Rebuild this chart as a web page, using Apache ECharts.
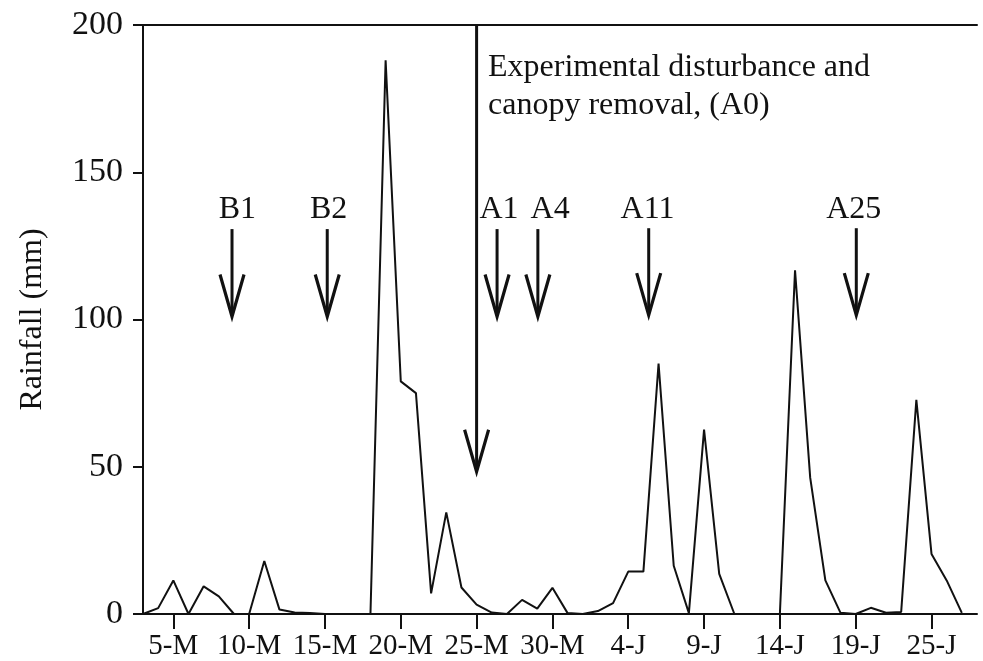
<!DOCTYPE html>
<html>
<head>
<meta charset="utf-8">
<script src="https://cdn.jsdelivr.net/npm/echarts@6/dist/echarts.min.js"></script>
<style>
html,body{margin:0;padding:0;background:#fff;}
#chart{width:983px;height:661px;}
</style>
</head>
<body>
<div id="chart"></div>
<script>
// Daily categories (3 May – 27 June)
const categories = [
  '3-M','4-M','5-M','6-M','7-M','8-M','9-M','10-M','11-M','12-M','13-M','14-M','15-M','16-M','17-M',
  '18-M','19-M','20-M','21-M','22-M','23-M','24-M','25-M','26-M','27-M','28-M','29-M','30-M','31-M',
  '1-J','2-J','3-J','4-J','5-J','6-J','7-J','8-J','9-J','10-J','11-J','12-J','13-J','14-J','15-J',
  '16-J','17-J','18-J','19-J','20-J','21-J','22-J','23-J','24-J','25-J','26-J','27-J'
];
// Daily rainfall (mm)
const rainfall = [
  0, 2, 11.4, 0, 9.4, 6, 0, 0, 18, 1.5, 0.5, 0.3, 0, 0, 0,
  0, 188, 79, 75, 7, 34.5, 9, 3.2, 0.5, 0, 4.8, 1.8, 8.9, 0.3,
  0, 1, 3.7, 14.4, 14.4, 85, 16.4, 0.3, 62.6, 13.6, 0, 0, 0, 0, 116.7,
  46.3, 11.4, 0.4, 0, 2.1, 0.4, 0.7, 72.7, 20.4, 11.4, 0.4, null
];
// Axis ticks
const tickIndex = [2, 7, 12, 17, 22, 27, 32, 37, 42, 47, 52];
const tickLabels = ['5-M','10-M','15-M','20-M','25-M','30-M','4-J','9-J','14-J','19-J','25-J'];
const yMin = 0, yMax = 200, yStep = 50;
const yName = 'Rainfall (mm)';

// Sampling arrows: [day index, top value, tip value]
const arrows = [
  [5.87, 130.7, 101], [12.15, 130.7, 101], [23.35, 130.7, 101], [26.04, 130.7, 101],
  [33.35, 131, 101.5], [47.04, 131, 101.5], [22.0, 200, 48.3]
];
// Arrow labels: [day index, value]
const arrowLabelText = ['B1', 'B2', 'A1', 'A4', 'A11', 'A25'];
const arrowLabelPos = [[6.22, 137.2], [12.24, 137.2], [23.48, 137.2], [26.85, 137.2], [33.27, 137.2], [46.87, 137.2]];
// Annotation
const noteText = ['Experimental disturbance and', 'canopy removal, (A0)'];
const notePos = [[22.75, 185.6], [22.75, 172.5]];

const FONT = "'Liberation Serif', 'Times New Roman', serif";
const INK = '#111';

const chart = echarts.init(document.getElementById('chart'), null, {renderer: 'canvas'});
chart.setOption({
  animation: false,
  backgroundColor: '#fff',
  grid: {left: 143, right: 6, top: 25, bottom: 44, containLabel: false},
  xAxis: [
    {
      type: 'category', data: categories, boundaryGap: false,
      axisLine: {show: true, lineStyle: {color: INK, width: 2}},
      axisTick: {show: true, length: 15, inside: false, lineStyle: {color: INK, width: 2},
        interval: (i) => tickIndex.includes(i)},
      axisLabel: {show: true, interval: (i) => tickIndex.includes(i), margin: 18,
        fontFamily: FONT, fontSize: 29, color: INK,
        formatter: (v, i) => { const k = tickIndex.indexOf(i); return k >= 0 ? tickLabels[k] : ''; }},
      splitLine: {show: false}
    },
    {
      type: 'value', min: 0, max: categories.length - 1, position: 'top',
      axisLine: {show: true, onZero: false, lineStyle: {color: INK, width: 2}},
      axisTick: {show: false}, axisLabel: {show: false}, splitLine: {show: false}
    }
  ],
  yAxis: {
    type: 'value', min: yMin, max: yMax, interval: yStep,
    name: yName, nameLocation: 'middle', nameGap: 94, nameRotate: 90,
    nameTextStyle: {fontFamily: FONT, fontSize: 32, color: INK},
    axisLine: {show: true, lineStyle: {color: INK, width: 2}},
    axisTick: {show: true, length: 10, lineStyle: {color: INK, width: 2}},
    axisLabel: {margin: 20, fontFamily: FONT, fontSize: 34, color: INK},
    splitLine: {show: false}
  },
  series: [
    {
      type: 'line', data: rainfall, xAxisIndex: 0, showSymbol: false, symbol: 'none',
      lineStyle: {color: INK, width: 2}, connectNulls: false
    },
    {
      type: 'custom', xAxisIndex: 1, data: arrows, clip: false,
      renderItem: (params, api) => {
        const top = api.coord([api.value(0), api.value(1)]);
        const tip = api.coord([api.value(0), api.value(2)]);
        return {type: 'group', children: [
          {type: 'line', shape: {x1: top[0], y1: top[1], x2: tip[0], y2: tip[1] - 2},
           style: {stroke: INK, lineWidth: 3}},
          {type: 'polyline', shape: {points: [[tip[0] - 12, tip[1] - 42], [tip[0], tip[1]], [tip[0] + 12, tip[1] - 42]]},
           style: {stroke: INK, lineWidth: 3.2, fill: null, lineJoin: 'miter', miterLimit: 20}}
        ]};
      }
    },
    {
      type: 'custom', xAxisIndex: 1, data: arrowLabelPos, clip: false,
      renderItem: (params, api) => {
        const p = api.coord([api.value(0), api.value(1)]);
        return {type: 'text', x: p[0], y: p[1], style: {
          text: arrowLabelText[params.dataIndex], fill: INK,
          font: '32px ' + FONT, align: 'center', verticalAlign: 'middle'}};
      }
    },
    {
      type: 'custom', xAxisIndex: 1, data: notePos, clip: false,
      renderItem: (params, api) => {
        const p = api.coord([api.value(0), api.value(1)]);
        return {type: 'text', x: p[0], y: p[1], style: {
          text: noteText[params.dataIndex], fill: INK,
          font: '32px ' + FONT, align: 'left', verticalAlign: 'middle'}};
      }
    }
  ]
});
</script>
</body>
</html>
